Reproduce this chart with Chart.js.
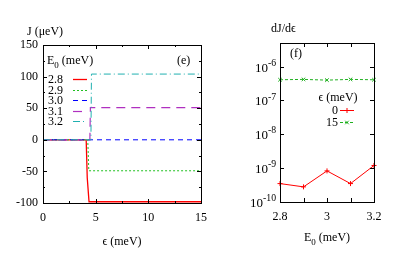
<!DOCTYPE html>
<html>
<head>
<meta charset="utf-8">
<script src="https://cdn.jsdelivr.net/npm/chart.js@4.4.1/dist/chart.umd.min.js"></script>
<style>
  html, body { margin: 0; padding: 0; background: #fff; }
  #wrap { position: relative; width: 396px; height: 277px; overflow: hidden; }
  canvas { position: absolute; top: 0; }
  #chartE { left: 0; }
  #chartF { left: 215px; }
</style>
</head>
<body>
<div id="wrap">
  <canvas id="chartE" width="215" height="277"></canvas>
  <canvas id="chartF" width="181" height="277"></canvas>
</div>
<script>
// --- panel (e): J vs epsilon, one curve per E0 ---
const e0Labels = ['2.8', '2.9', '3.0', '3.1', '3.2'];
const eps28 = [0, 4.1, 4.2, 4.37, 15];
const j28   = [0, 0, -60, -98, -98];
const eps29 = [0, 4.25, 4.35, 15];
const j29   = [0, 0, -49, -49];
const eps30 = [0, 15];
const j30   = [0, 0];
const eps31 = [0, 4.45, 4.5, 15];
const j31   = [0, 0, 51, 51];
const eps32 = [0, 4.55, 4.6, 15];
const j32   = [0, 0, 104, 104];

// --- panel (f): dJ/deps vs E0 ---
const e0Vals = [2.8, 2.9, 3.0, 3.1, 3.2];
const dJeps0  = [3.5e-10, 2.8e-10, 8.3e-10, 3.5e-10, 1.2e-9];
const dJeps15 = [4.1e-7, 4.2e-7, 4.0e-7, 4.2e-7, 4.1e-7];
const epsLabels = ['0', '15'];

const FONT = '"Liberation Serif", "DejaVu Serif", serif';

function pts(xs, ys) { return xs.map((x, i) => ({ x: x, y: ys[i] })); }

// text with optional sub/superscript parts, returns width
function partsWidth(ctx, parts, size) {
  let w = 0;
  parts.forEach(p => {
    ctx.font = (p.sub || p.sup ? size * 0.75 : size) + 'px ' + FONT;
    w += ctx.measureText(p.t).width;
  });
  return w;
}
function drawParts(ctx, parts, x, y, size, align) {
  const w = partsWidth(ctx, parts, size);
  let cx = align === 'center' ? x - w / 2 : align === 'right' ? x - w : x;
  ctx.save();
  ctx.fillStyle = '#000';
  ctx.textAlign = 'left';
  ctx.textBaseline = 'alphabetic';
  parts.forEach(p => {
    const s = p.sub || p.sup ? size * 0.75 : size;
    ctx.font = s + 'px ' + FONT;
    const dy = p.sub ? size * 0.3 : p.sup ? -size * 0.45 : 0;
    ctx.fillText(p.t, cx, y + dy);
    cx += ctx.measureText(p.t).width;
  });
  ctx.restore();
}

// gnuplot style frame with ticks pointing inwards on all four sides
function frameTicks(chart, xMajor, xMinor, yMajor, yMinor) {
  const { ctx, chartArea: a } = chart;
  const sx = chart.scales.x, sy = chart.scales.y;
  ctx.save();
  ctx.strokeStyle = '#000';
  ctx.lineWidth = 1;
  ctx.beginPath();
  const vt = (v, len) => {
    const px = Math.round(sx.getPixelForValue(v)) + 0.5;
    ctx.moveTo(px, a.bottom); ctx.lineTo(px, a.bottom - len);
    ctx.moveTo(px, a.top); ctx.lineTo(px, a.top + len);
  };
  const ht = (v, len) => {
    const py = Math.round(sy.getPixelForValue(v)) + 0.5;
    ctx.moveTo(a.left, py); ctx.lineTo(a.left + len, py);
    ctx.moveTo(a.right, py); ctx.lineTo(a.right - len, py);
  };
  xMajor.forEach(v => vt(v, 4));
  xMinor.forEach(v => vt(v, 2));
  yMajor.forEach(v => ht(v, 4));
  yMinor.forEach(v => ht(v, 2));
  ctx.stroke();
  ctx.strokeRect(Math.round(a.left) + 0.5, Math.round(a.top) + 0.5,
                 Math.round(a.right - a.left), Math.round(a.bottom - a.top));
  ctx.restore();
}

function midpoints(vals) {
  const out = [];
  for (let i = 0; i < vals.length - 1; i++) out.push((vals[i] + vals[i + 1]) / 2);
  return out;
}

function legendSample(ctx, ds, x1, x2, y) {
  ctx.save();
  ctx.strokeStyle = ds.borderColor;
  ctx.lineWidth = ds.borderWidth;
  ctx.setLineDash(ds.borderDash || []);
  ctx.beginPath();
  ctx.moveTo(x1, y); ctx.lineTo(x2, y);
  ctx.stroke();
  ctx.restore();
}

const tickFont = { family: FONT, size: 12 };

// ---------------- panel (e) ----------------
const styleE = [
  { color: '#ff0000', dash: [], width: 1.3 },
  { color: '#22c022', dash: [2, 2], width: 1 },
  { color: '#0000ff', dash: [5, 4], width: 1 },
  { color: '#b030c0', dash: [9, 6], width: 1.2 },
  { color: '#20b0b0', dash: [7, 3, 1, 3], width: 1 }
];
const seriesE = [pts(eps28, j28), pts(eps29, j29), pts(eps30, j30), pts(eps31, j31), pts(eps32, j32)];

const panelEPlugin = {
  id: 'panelE',
  afterDraw(chart) {
    const ctx = chart.ctx;
    const sx = chart.scales.x, sy = chart.scales.y;
    const xMaj = sx.ticks.map(t => t.value);
    const yMaj = sy.ticks.map(t => t.value);
    frameTicks(chart, xMaj, midpoints(xMaj), yMaj, midpoints(yMaj));
    drawParts(ctx, [{ t: 'J (μeV)' }], 27, 35, 12, 'left');
    drawParts(ctx, [{ t: 'ϵ (meV)' }], 122, 245, 12, 'center');
    drawParts(ctx, [{ t: '(e)' }], 177, 64, 12, 'left');
    drawParts(ctx, [{ t: 'E' }, { t: '0', sub: true }, { t: ' (meV)' }], 47, 64, 12, 'left');
    chart.data.datasets.forEach((ds, i) => {
      const y = 79 + i * 10.6;
      drawParts(ctx, [{ t: ds.label }], 48, y + 4, 12, 'left');
      legendSample(ctx, ds, 73, 87, Math.round(y) + 0.5);
    });
  }
};

new Chart(document.getElementById('chartE'), {
  type: 'line',
  data: {
    datasets: seriesE.map((d, i) => ({
      label: e0Labels[i],
      data: d,
      borderColor: styleE[i].color,
      borderDash: styleE[i].dash,
      borderWidth: styleE[i].width,
      pointRadius: 0,
      tension: 0,
      fill: false,
      order: 5 - i
    }))
  },
  options: {
    responsive: false,
    animation: false,
    layout: { padding: { left: 0, top: 45, right: 14, bottom: 0 } },
    plugins: { legend: { display: false }, tooltip: { enabled: false } },
    scales: {
      x: {
        type: 'linear', min: 0, max: 15,
        grid: { display: false, drawTicks: false, tickLength: 0 },
        border: { display: false },
        ticks: { stepSize: 5, font: tickFont, color: '#000', padding: 8, maxRotation: 0 },
        afterFit(s) { s.height = 74; }
      },
      y: {
        min: -100, max: 150,
        grid: { display: false, drawTicks: false, tickLength: 0 },
        border: { display: false },
        ticks: { stepSize: 50, font: tickFont, color: '#000', padding: 5 },
        afterFit(s) { s.width = 43; }
      }
    }
  },
  plugins: [panelEPlugin]
});

// ---------------- panel (f) ----------------
const panelFPlugin = {
  id: 'panelF',
  afterDraw(chart) {
    const ctx = chart.ctx;
    const sx = chart.scales.x, sy = chart.scales.y;
    const decades = [-10, -9, -8, -7, -6];
    frameTicks(chart, sx.ticks.map(t => t.value), [], decades.map(k => Math.pow(10, k)), []);
    decades.forEach(k => {
      const py = sy.getPixelForValue(Math.pow(10, k));
      drawParts(ctx, [{ t: '10' }, { t: String(k).replace('-', '-'), sup: true }], 61, py + 5, 13, 'right');
    });
    drawParts(ctx, [{ t: 'dJ/dϵ' }], 56, 32, 12, 'left');
    drawParts(ctx, [{ t: '(f)' }], 75, 57, 12, 'left');
    drawParts(ctx, [{ t: 'E' }, { t: '0', sub: true }, { t: ' (meV)' }], 112, 241, 12, 'center');
    drawParts(ctx, [{ t: 'ϵ (meV)' }], 123, 101, 12, 'center');
    chart.data.datasets.forEach((ds, i) => {
      const y = 110 + i * 12;
      drawParts(ctx, [{ t: ds.label }], 123, y + 4, 12, 'right');
      legendSample(ctx, ds, 125, 139, Math.round(y) + 0.5);
      ctx.save();
      ctx.strokeStyle = ds.borderColor;
      ctx.lineWidth = 1;
      Chart.helpers.drawPoint(ctx, { pointStyle: ds.pointStyle, radius: ds.pointRadius, borderWidth: 1 }, 132, Math.round(y) + 0.5);
      ctx.restore();
    });
  }
};

new Chart(document.getElementById('chartF'), {
  type: 'line',
  data: {
    labels: e0Vals,
    datasets: [
      {
        label: epsLabels[0],
        data: pts(e0Vals, dJeps0),
        borderColor: '#ff0000', backgroundColor: '#ff0000',
        borderWidth: 1, pointStyle: 'cross', pointRadius: 2.5, pointBorderWidth: 1,
        tension: 0, fill: false, clip: false
      },
      {
        label: epsLabels[1],
        data: pts(e0Vals, dJeps15),
        borderColor: '#20b020', backgroundColor: '#20b020',
        borderWidth: 1, borderDash: [3, 2], pointStyle: 'crossRot', pointRadius: 2.5, pointBorderWidth: 1,
        tension: 0, fill: false, clip: false
      }
    ]
  },
  options: {
    responsive: false,
    animation: false,
    layout: { padding: { left: 0, top: 43, right: 22, bottom: 0 } },
    plugins: { legend: { display: false }, tooltip: { enabled: false } },
    scales: {
      x: {
        type: 'linear', min: 2.8, max: 3.2,
        grid: { display: false, drawTicks: false, tickLength: 0 },
        border: { display: false },
        ticks: {
          stepSize: 0.1, font: tickFont, color: '#000', padding: 8, maxRotation: 0,
          callback: v => { const r = Math.round(v * 10); return r % 2 === 0 ? String(r / 10) : ''; }
        },
        afterFit(s) { s.height = 75; }
      },
      y: {
        type: 'logarithmic', min: 1e-10, max: 5e-6,
        grid: { display: false, drawTicks: false, tickLength: 0 },
        border: { display: false },
        ticks: { display: false },
        afterFit(s) { s.width = 65; }
      }
    }
  },
  plugins: [panelFPlugin]
});
</script>
</body>
</html>
